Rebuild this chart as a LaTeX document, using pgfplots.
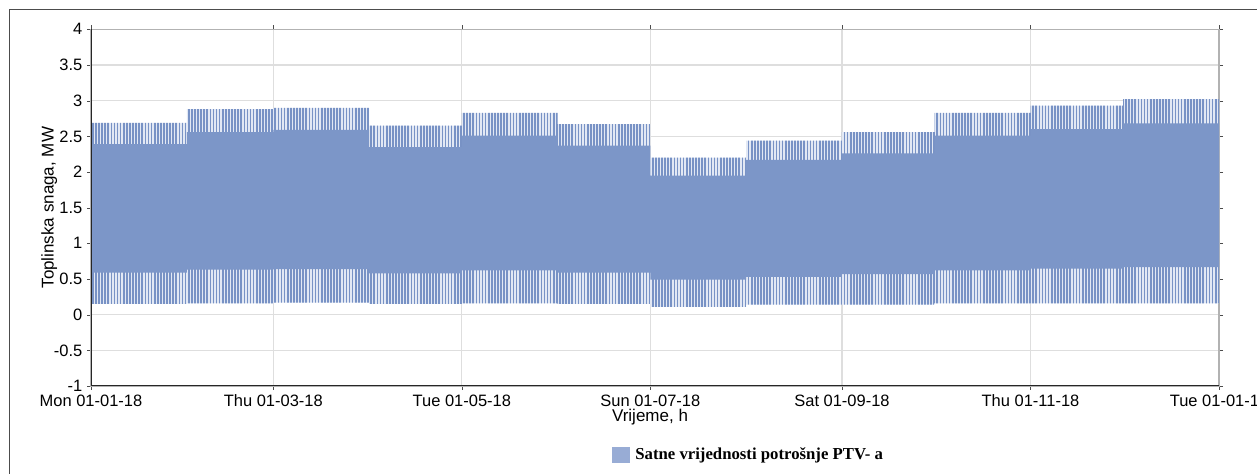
\documentclass[border=0pt]{standalone}
\usepackage{fontspec}
\setmainfont{Liberation Serif}
\setsansfont{Liberation Sans}
\usepackage{pgfplots}
\pgfplotsset{compat=1.18}
\usepackage{pgfplotstable}
\usepgfplotslibrary{fillbetween}
\usetikzlibrary{patterns.meta}

\definecolor{ptvblue}{RGB}{124,150,200}
\definecolor{ptvline}{RGB}{120,146,197}
\definecolor{ptvlight}{RGB}{226,232,244}
\definecolor{ptvleg}{RGB}{152,172,213}
\definecolor{gridgray}{RGB}{222,222,222}

% monthly envelope of the hourly values (day of year, MW)
\pgfplotstableread{
day  max   dtop  dbot   min
0    2.69  2.39  0.59   0.15
31   2.88  2.56  0.63   0.16
59   2.90  2.59  0.64   0.17
90   2.65  2.35  0.58   0.15
120  2.83  2.51  0.62   0.16
151  2.67  2.37  0.59   0.15
181  2.20  1.95  0.49   0.11
212  2.44  2.17  0.53   0.14
243  2.56  2.26  0.57   0.14
273  2.83  2.51  0.62   0.16
304  2.93  2.60  0.645  0.16
334  3.02  2.68  0.665  0.16
365  3.02  2.68  0.665  0.16
}\ptv

\begin{document}
\begin{tikzpicture}
\begin{axis}[
    at={(68.25bp,66bp)}, anchor=south west,
    scale only axis,
    width=846bp, height=267.5bp,
    xmin=0, xmax=365, ymin=-1, ymax=4,
    xtick={0,59,120,181,243,304,365},
    xticklabels={Mon 01-01-18, Thu 01-03-18, Tue 01-05-18, Sun 01-07-18,
                 Sat 01-09-18, Thu 01-11-18, Tue 01-01-19},
    ytick={-1,-0.5,0,0.5,1,1.5,2,2.5,3,3.5,4},
    minor x tick num=5,
    yticklabel style={/pgf/number format/fixed},
    /pgf/number format/assume math mode=true,
    ticklabel style={font=\sffamily\fontsize{12.4}{14}\selectfont},
    label style={font=\sffamily\fontsize{12.8}{14}\selectfont},
    tick align=outside,
    major tick length=3bp, minor tick length=2bp,
    tick style={black!70},
    xmajorgrids, ymajorgrids,
    grid style={gridgray, line width=0.8bp},
    axis line style={draw=gray!60, line width=1bp},
    xlabel={Vrijeme, h},
    ylabel={Toplinska snaga, MW},
    xlabel style={at={(axis description cs:0.4956,-0.088)}, anchor=center},
    ylabel style={at={(axis description cs:-0.037,0.5)}, anchor=center},
    legend style={at={(axis description cs:0.4615,-0.1934)}, anchor=west,
                  draw=none, fill=none, inner sep=0pt,
                  font=\rmfamily\bfseries\fontsize{12.6}{14}\selectfont},
    legend cell align=left,
]
\addplot[const plot mark left, draw=none, name path=mx, forget plot] table[x=day, y=max] {\ptv};
\addplot[const plot mark left, draw=none, name path=mn, forget plot] table[x=day, y=min] {\ptv};
\addplot[const plot mark left, draw=none, name path=dt, forget plot] table[x=day, y=dtop] {\ptv};
\addplot[const plot mark left, draw=none, name path=db, forget plot] table[x=day, y=dbot] {\ptv};

\addplot[fill=ptvlight, draw=none, forget plot] fill between[of=mx and mn];
\addplot[pattern={Lines[angle=90, distance=2.32bp, line width=1.25bp]},
         pattern color=ptvline, draw=none, forget plot] fill between[of=mx and mn];
\addplot[fill=ptvblue, draw=none, forget plot] fill between[of=dt and db];

\addlegendimage{legend image code/.code={\fill[ptvleg] (0bp,-5.5bp) rectangle (12.75bp,5.5bp);}}
\addlegendentry{\hspace{2.5bp}Satne vrijednosti potrošnje PTV- a}

\draw[black!85, line width=1.5bp] (rel axis cs:0,1) -- (rel axis cs:0,0) -- (rel axis cs:1,0);
\end{axis}
\draw[black!70, line width=1.2bp] (7bp,-10bp) -- (7bp,348.5bp) -- (960bp,348.5bp);
\pgfresetboundingbox
\useasboundingbox (0bp,0bp) rectangle (942.75bp,355.5bp);
\end{tikzpicture}
\end{document}
